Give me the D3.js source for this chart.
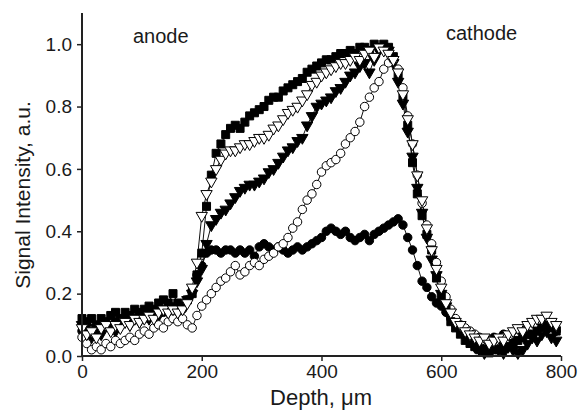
<!DOCTYPE html>
<html><head><meta charset="utf-8">
<script src="https://cdn.jsdelivr.net/npm/d3@7"></script>
<style>body{margin:0;background:#fff}svg{display:block}text{font-family:"Liberation Sans",Arial,sans-serif;fill:#1a1a1a}</style>
</head><body><svg id="c" width="579" height="415"></svg>
<script>
const depth = d3.range(0, 800, 8); // sampling grid (µm) – 100 points, 8 µm apart
const xTicks = [0, 200, 400, 600, 800];
const yTicks = [0, 0.2, 0.4, 0.6, 0.8, 1.0];
const filledSquares = [0.12,0.11,0.12,0.10,0.12,0.11,0.13,0.14,0.12,0.14,0.13,0.15,0.14,0.15,0.16,0.15,0.17,0.18,0.17,0.20,0.17,0.16,0.18,0.20,0.26,0.33,0.48,0.58,0.65,0.68,0.71,0.73,0.74,0.73,0.75,0.77,0.78,0.79,0.80,0.82,0.83,0.83,0.85,0.86,0.87,0.88,0.89,0.91,0.92,0.93,0.94,0.95,0.95,0.96,0.97,0.97,0.98,0.97,0.99,0.99,0.98,1.00,0.99,1.00,0.99,0.96,0.90,0.83,0.74,0.62,0.52,0.45,0.39,0.34,0.25,0.19,0.15,0.11,0.09,0.07,0.05,0.04,0.03,0.02,0.02,0.01,0.02,0.02,0.03,0.03,0.04,0.05,0.06,0.07,0.07,0.08,0.09,0.10,0.09,0.08];
const openTriangles = [0.09,0.07,0.08,0.06,0.09,0.10,0.08,0.10,0.09,0.11,0.10,0.12,0.11,0.12,0.13,0.12,0.14,0.15,0.14,0.15,0.14,0.15,0.17,0.22,0.30,0.45,0.52,0.56,0.60,0.63,0.65,0.66,0.66,0.67,0.68,0.68,0.69,0.70,0.70,0.71,0.73,0.74,0.76,0.78,0.79,0.80,0.82,0.84,0.87,0.88,0.90,0.91,0.92,0.93,0.94,0.94,0.95,0.96,0.95,0.97,0.98,0.96,0.99,0.98,0.97,0.95,0.91,0.84,0.76,0.68,0.58,0.50,0.41,0.34,0.28,0.22,0.17,0.14,0.11,0.10,0.08,0.07,0.06,0.05,0.06,0.04,0.05,0.06,0.05,0.07,0.08,0.09,0.08,0.10,0.11,0.12,0.12,0.13,0.11,0.10];
const filledTriangles = [0.10,0.08,0.06,0.09,0.07,0.10,0.09,0.08,0.10,0.11,0.10,0.12,0.11,0.13,0.12,0.14,0.13,0.15,0.14,0.16,0.15,0.16,0.18,0.20,0.24,0.28,0.36,0.42,0.44,0.46,0.47,0.49,0.51,0.53,0.54,0.55,0.55,0.56,0.57,0.59,0.60,0.62,0.64,0.66,0.67,0.69,0.70,0.74,0.77,0.80,0.81,0.82,0.83,0.85,0.86,0.88,0.90,0.91,0.93,0.94,0.91,0.95,0.98,0.99,0.98,0.94,0.88,0.81,0.72,0.64,0.54,0.46,0.38,0.31,0.26,0.20,0.16,0.12,0.10,0.08,0.06,0.05,0.03,0.02,0.01,0.02,0.03,0.02,0.01,0.03,0.02,0.01,0.02,0.04,0.06,0.05,0.07,0.08,0.06,0.05];
const openCircles = [0.06,0.04,0.02,0.03,0.02,0.04,0.03,0.05,0.04,0.05,0.06,0.05,0.07,0.08,0.07,0.09,0.10,0.09,0.11,0.12,0.11,0.12,0.10,0.09,0.13,0.16,0.18,0.20,0.22,0.24,0.25,0.27,0.29,0.26,0.27,0.29,0.30,0.29,0.31,0.32,0.33,0.35,0.36,0.38,0.41,0.43,0.47,0.50,0.52,0.55,0.59,0.61,0.62,0.63,0.65,0.68,0.70,0.72,0.75,0.80,0.83,0.86,0.88,0.92,0.94,0.95,0.92,0.86,0.77,0.68,0.58,0.49,0.42,0.36,0.30,0.24,0.19,0.15,0.12,0.10,0.09,0.08,0.07,0.06,0.05,0.05,0.04,0.05,0.06,0.05,0.07,0.06,0.08,0.07,0.09,0.10,0.09,0.11,0.10,0.09];
const filledCircles = [0.08,0.10,0.07,0.09,0.08,0.10,0.09,0.11,0.10,0.12,0.11,0.12,0.13,0.12,0.14,0.13,0.15,0.14,0.16,0.15,0.16,0.15,0.18,0.21,0.26,0.29,0.33,0.34,0.34,0.33,0.34,0.34,0.33,0.34,0.33,0.34,0.32,0.35,0.36,0.35,0.34,0.35,0.34,0.33,0.34,0.35,0.34,0.35,0.36,0.37,0.38,0.40,0.41,0.40,0.39,0.40,0.38,0.37,0.38,0.39,0.37,0.39,0.40,0.41,0.42,0.43,0.44,0.42,0.38,0.34,0.29,0.24,0.22,0.19,0.17,0.16,0.14,0.12,0.10,0.09,0.08,0.07,0.06,0.05,0.04,0.05,0.06,0.05,0.07,0.06,0.07,0.08,0.07,0.09,0.08,0.09,0.10,0.09,0.10,0.08];

const svg = d3.select("#c");
const x = d3.scaleLinear().domain([0, 800]).range([82, 561]);
const y = d3.scaleLinear().domain([0, 1.1]).range([356, 13]);

const series = [
  {v: filledCircles, sym: d3.symbolCircle, size: 56, fill: "#000"},
  {v: filledTriangles, sym: d3.symbolTriangle, size: 56, fill: "#000", down: true},
  {v: openCircles, sym: d3.symbolCircle, size: 56, fill: "#fff"},
  {v: filledSquares, sym: d3.symbolSquare, size: 64, fill: "#000"},
  {v: openTriangles, sym: d3.symbolTriangle, size: 56, fill: "#fff", down: true}
];

const line = d3.line().x((d,i)=>x(depth[i])).y(d=>y(d));
series.forEach(s => {
  svg.append("path").attr("d", line(s.v)).attr("fill","none").attr("stroke","#111").attr("stroke-width",1);
});
series.forEach(s => {
  svg.append("g").selectAll("path").data(s.v).join("path")
    .attr("d", d3.symbol(s.sym, s.size))
    .attr("transform", (d,i)=>`translate(${x(depth[i])},${y(d)})${s.down?" rotate(180)":""}`)
    .attr("fill", s.fill).attr("stroke","#000").attr("stroke-width",1);
});

const xa = svg.append("g").attr("transform","translate(0,356)")
  .call(d3.axisBottom(x).tickValues(xTicks).tickSize(5).tickPadding(4).tickFormat(d3.format("d")));
const ya = svg.append("g").attr("transform","translate(82,0)")
  .call(d3.axisLeft(y).tickValues(yTicks).tickSize(5).tickPadding(5).tickFormat(d3.format(".1f")));
[xa, ya].forEach(a => {
  a.select(".domain").attr("stroke","#222").attr("stroke-width",2);
  a.selectAll(".tick line").attr("stroke","#222").attr("stroke-width",1.5);
  a.selectAll("text").style("font-size","19px").attr("fill","#1a1a1a");
});
ya.select(".domain").attr("d","M0,13V356");
xa.select(".domain").attr("d","M82,0H561");

svg.append("text").attr("x",321).attr("y",405).attr("text-anchor","middle").style("font-size","22px").text("Depth, \u03bcm");
svg.append("text").attr("transform","translate(30,195) rotate(-90)").attr("text-anchor","middle").style("font-size","21px").text("Signal Intensity, a.u.");
svg.append("text").attr("x",133).attr("y",43).style("font-size","20px").text("anode");
svg.append("text").attr("x",446).attr("y",40).style("font-size","20px").text("cathode");
</script></body></html>
